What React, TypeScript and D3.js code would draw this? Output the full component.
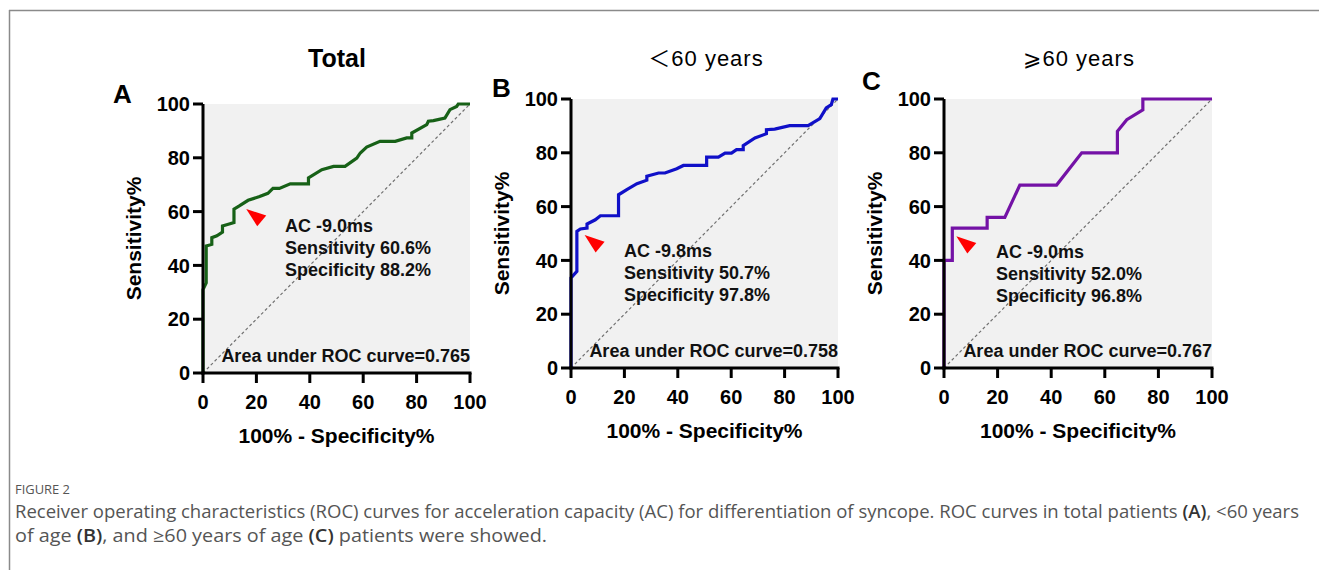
import React from "react";
import * as d3 from "d3";

// ---------- DATA ----------
const panelLetters = ["A", "B", "C"];
const panelTitles = ["Total", "＜60 years", "⩾60 years"];
const tickValues = [0, 20, 40, 60, 80, 100];
const xAxisTitle = "100% - Specificity%";
const yAxisTitle = "Sensitivity%";

// Panel A (Total): 100% - specificity, sensitivity
const totalX = [0, 0, 1.2, 1.2, 3.3, 3.3, 5.2, 7.3, 7.3, 9.5, 11.6, 11.6, 13.6, 16.9, 21.2, 24.3, 26.2, 28.6, 32.7, 39.5, 39.5, 44.5, 48.9, 53.2, 57.6, 58.9, 61.3, 66.3, 72, 76.3, 78.2, 78.2, 83.8, 84.4, 86.3, 90.6, 92.5, 95, 95.6, 100];
const totalY = [0, 31, 33.5, 47.2, 47.8, 50.3, 51, 52.4, 54.7, 55.3, 55.9, 60.9, 62.1, 64.2, 65.6, 66.8, 68.6, 68.6, 70.3, 70.3, 72.5, 75.6, 76.8, 76.8, 79.9, 81.8, 84, 86.1, 86.1, 87.4, 87.4, 89.2, 92.3, 93.6, 93.8, 94.8, 97.9, 99.1, 100, 100];

// Panel B (<60 years)
const youngX = [0, 0, 2.2, 2.2, 3.5, 6, 6, 9.1, 11, 17.8, 17.8, 20.9, 24.7, 28.4, 28.4, 32.8, 35.2, 39.6, 42.1, 50.8, 50.8, 55.2, 57.7, 60.1, 62, 64.5, 64.5, 68.9, 73.2, 73.2, 76.3, 81.9, 88.8, 93.2, 95.6, 97.5, 98.1, 100];
const youngY = [0, 33.5, 35.9, 50.8, 51.7, 52, 53.5, 55.1, 56.6, 56.6, 64.4, 66.3, 68.5, 69.8, 71.3, 72.5, 72.5, 74.1, 75.3, 75.3, 78.4, 78.4, 79.9, 79.9, 81.2, 81.2, 82.7, 85.5, 87.1, 88.6, 88.8, 90.1, 90.1, 92.7, 96.7, 97.9, 100, 100];

// Panel C (>=60 years)
const oldX = [0, 0, 3.1, 3.1, 16.1, 16.1, 22.7, 28.3, 42, 51.4, 64.7, 64.7, 68.2, 74.2, 74.2, 100];
const oldY = [0, 40, 40, 52, 52, 56, 56, 68, 68, 80, 80, 88, 92.3, 96, 100, 100];

const cutoffLines = [
  ["AC -9.0ms", "Sensitivity 60.6%", "Specificity 88.2%"],
  ["AC -9.8ms", "Sensitivity 50.7%", "Specificity 97.8%"],
  ["AC -9.0ms", "Sensitivity 52.0%", "Specificity 96.8%"],
];
const aucLabels = ["Area under ROC curve=0.765", "Area under ROC curve=0.758", "Area under ROC curve=0.767"];
// arrow tip location (data coords)
const arrowTipX = [16.2, 5.1, 4.6];
const arrowTipY = [61, 49.4, 49];

const captionHead = "FIGURE 2";

// ---------- LAYOUT ----------
const panels = [
  { x0: 203, x1: 470, yTop: 104, yBot: 373, color: "#176117", xs: totalX, ys: totalY, letterX: 113, letterY: 103, titleX: 337, titleY: 67, textX: 285, textY: 232, aucY: 362, titleBold: true },
  { x0: 571, x1: 838, yTop: 99, yBot: 368, color: "#1010c8", xs: youngX, ys: youngY, letterX: 492, letterY: 97, titleX: 706, titleY: 66, textX: 624, textY: 257, aucY: 357, titleBold: false },
  { x0: 944, x1: 1212, yTop: 99, yBot: 368, color: "#7412a6", xs: oldX, ys: oldY, letterX: 862, letterY: 90, titleX: 1079, titleY: 66, textX: 996, textY: 258, aucY: 357, titleBold: false },
];

const FONT = "'Liberation Sans', Arial, 'DejaVu Sans', 'Noto Sans CJK SC', sans-serif";

function Panel({ i }: { i: number }) {
  const p = panels[i];
  const x = d3.scaleLinear().domain([0, 100]).range([p.x0, p.x1]);
  const y = d3.scaleLinear().domain([0, 100]).range([p.yBot, p.yTop]);
  const pts: [number, number][] = p.xs.map((v, k) => [v, p.ys[k]]);
  const line = d3.line<[number, number]>().x((d) => x(d[0])).y((d) => y(d[1]));
  const tx = x(arrowTipX[i]);
  const ty = y(arrowTipY[i]);
  const tri = `M${tx},${ty} L${tx + 20},${ty + 6.7} L${tx + 11},${ty + 17.4} Z`;
  return (
    <g>
      <rect x={p.x0} y={p.yTop} width={p.x1 - p.x0} height={p.yBot - p.yTop} fill="#f1f1f1" />
      <line x1={x(0)} y1={y(0)} x2={x(100)} y2={y(100)} stroke="#707070" strokeWidth={1.2} strokeDasharray="3,2.5" />
      <path d={line(pts) || ""} fill="none" stroke={p.color} strokeWidth={3.2} strokeLinejoin="miter" />
      {/* axes */}
      <line x1={p.x0} y1={p.yTop} x2={p.x0} y2={p.yBot + 1.5} stroke="#000" strokeWidth={3} />
      <line x1={p.x0 - 1.5} y1={p.yBot} x2={p.x1 + 1.5} y2={p.yBot} stroke="#000" strokeWidth={3} />
      {tickValues.map((t) => (
        <g key={"y" + t}>
          <line x1={p.x0 - 10} x2={p.x0} y1={y(t)} y2={y(t)} stroke="#000" strokeWidth={3} />
          <text x={p.x0 - 13} y={y(t)} dy="0.36em" textAnchor="end" fontSize={20} fontWeight="bold" fontFamily={FONT}>{t}</text>
        </g>
      ))}
      {tickValues.map((t) => (
        <g key={"x" + t}>
          <line x1={x(t)} x2={x(t)} y1={p.yBot} y2={p.yBot + 10} stroke="#000" strokeWidth={3} />
          <text x={x(t)} y={p.yBot + 36} textAnchor="middle" fontSize={20} fontWeight="bold" fontFamily={FONT}>{t}</text>
        </g>
      ))}
      <text x={(p.x0 + p.x1) / 2} y={p.yBot + 70} textAnchor="middle" fontSize={21} fontWeight="bold" fontFamily={FONT}>{xAxisTitle}</text>
      <text transform={`translate(${p.x0 - 62},${(p.yTop + p.yBot) / 2}) rotate(-90)`} textAnchor="middle" fontSize={21} fontWeight="bold" fontFamily={FONT}>{yAxisTitle}</text>
      {/* annotation */}
      <path d={tri} fill="#ff0000" />
      {cutoffLines[i].map((s, k) => (
        <text key={k} x={p.textX} y={p.textY + k * 22} fontSize={18} fontWeight="bold" fontFamily={FONT} fill="#111">{s}</text>
      ))}
      <text x={p.x1} y={p.aucY} textAnchor="end" fontSize={18} fontWeight="bold" fontFamily={FONT} fill="#111">{aucLabels[i]}</text>
      {/* titles */}
      <text x={p.letterX} y={p.letterY} fontSize={26} fontWeight="bold" fontFamily={FONT}>{panelLetters[i]}</text>
      <text x={p.titleX} y={p.titleY} textAnchor="middle" fontSize={p.titleBold ? 25 : 22} fontWeight={p.titleBold ? "bold" : "normal"} letterSpacing={p.titleBold ? 0 : 1} fontFamily={FONT}>{panelTitles[i]}</text>
    </g>
  );
}

export default function App() {
  const capFont = "'Open Sans', 'Noto Sans', sans-serif";
  return (
    <svg width={1319} height={570} style={{ position: "absolute", left: 0, top: 0, background: "#fff" }}>
      <line x1={9} y1={10.5} x2={1319} y2={10.5} stroke="#8a8a8a" strokeWidth={1.5} />
      <line x1={9.5} y1={10} x2={9.5} y2={570} stroke="#8a8a8a" strokeWidth={1.5} />
      {panels.map((_, i) => <Panel key={i} i={i} />)}
      <text x={15} y={494} fontSize={13} fill="#555" fontFamily={capFont} textLength={55} lengthAdjust="spacingAndGlyphs">{captionHead}</text>
      <text x={15} y={518} fontSize={18} fill="#555" fontFamily={capFont} textLength={1284} lengthAdjust="spacingAndGlyphs">
        Receiver operating characteristics (ROC) curves for acceleration capacity (AC) for differentiation of syncope. ROC curves in total patients <tspan fontWeight="600" fill="#333">(A)</tspan>, &lt;60 years
      </text>
      <text x={15} y={542} fontSize={18} fill="#555" fontFamily={capFont} textLength={532} lengthAdjust="spacingAndGlyphs">
        of age <tspan fontWeight="600" fill="#333">(B)</tspan>, and ≥60 years of age <tspan fontWeight="600" fill="#333">(C)</tspan> patients were showed.
      </text>
    </svg>
  );
}
